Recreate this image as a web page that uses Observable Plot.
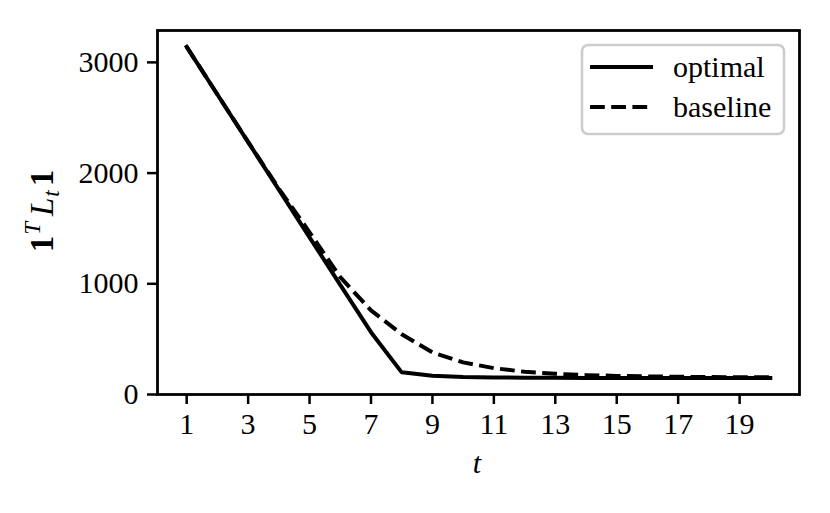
<!DOCTYPE html>
<html>
<head>
<meta charset="utf-8">
<script src="https://cdn.jsdelivr.net/npm/d3@7"></script>
<script src="https://cdn.jsdelivr.net/npm/@observablehq/plot@0.6"></script>
<style>
  html, body { margin: 0; padding: 0; background: white; }
  #chart { position: relative; width: 830px; height: 513px; }
</style>
</head>
<body>
<div id="chart"></div>
<script>
const steps = [1,2,3,4,5,6,7,8,9,10,11,12,13,14,15,16,17,18,19,20];
const optimal = [3140,2710,2280,1850,1420,990,563,200,170,158,154,152,151,150,150,149,149,148,148,148];
const baseline = [3140,2710,2282,1860,1465,1060,760,545,380,290,238,205,187,175,168,163,160,158,156,155];
const xTicks = [1,3,5,7,9,11,13,15,17,19];
const yTicks = [0,1000,2000,3000];
const seriesNames = ["optimal", "baseline"];

const rows = [];
steps.forEach((t, i) => {
  rows.push({t, v: optimal[i], s: seriesNames[0]});
  rows.push({t, v: baseline[i], s: seriesNames[1]});
});

const font = "'Liberation Serif', 'DejaVu Serif', serif";
const fs = 30;

const plot = Plot.plot({
  width: 830,
  height: 513,
  marginLeft: 157,
  marginRight: 31,
  marginTop: 30,
  marginBottom: 119,
  style: { fontFamily: font, fontSize: fs + "px", color: "black", background: "white", overflow: "visible" },
  x: { domain: [0.05, 20.95] },
  y: { domain: [0, 3288] },
  marks: [
    Plot.line(rows.filter(d => d.s === "optimal"), { x: "t", y: "v", stroke: "black", strokeWidth: 4, strokeLinejoin: "miter", strokeLinecap: "square" }),
    Plot.line(rows.filter(d => d.s === "baseline"), { x: "t", y: "v", stroke: "black", strokeWidth: 4, strokeDasharray: "14.8,6.4", strokeLinecap: "butt" }),
    Plot.frame({ stroke: "black", strokeWidth: 2.8 }),
    Plot.axisX({ ticks: xTicks, tickSize: 10, tickPadding: 8, strokeWidth: 2.5, label: null, fontSize: fs }),
    Plot.axisY({ ticks: yTicks, tickSize: 10, tickPadding: 9, strokeWidth: 2.5, label: null, fontSize: fs, tickFormat: d => String(d) })
  ]
});

document.getElementById("chart").appendChild(plot);

const svg = d3.select(plot);

// x label
svg.append("text")
  .attr("x", 477).attr("y", 473)
  .attr("text-anchor", "middle")
  .attr("font-family", font).attr("font-size", fs).attr("font-style", "italic")
  .text("t");

// y label: 1^T L_t 1
const yl = svg.append("text")
  .attr("transform", "translate(53,211) rotate(-90)")
  .attr("text-anchor", "middle")
  .attr("font-family", font).attr("font-size", 33);
yl.append("tspan").attr("font-weight", "bold").text("1");
yl.append("tspan").attr("font-style", "italic").attr("font-size", 23).attr("dy", -13).attr("dx", 1).text("T");
yl.append("tspan").attr("font-style", "italic").attr("dy", 13).attr("dx", 6).text("L");
yl.append("tspan").attr("font-style", "italic").attr("font-size", 23).attr("dy", 6).attr("dx", 1).text("t");
yl.append("tspan").attr("font-weight", "bold").attr("dy", -6).attr("dx", 4).text("1");

// legend
const lg = svg.append("g");
lg.append("rect")
  .attr("x", 582).attr("y", 45).attr("width", 202).attr("height", 89)
  .attr("rx", 6).attr("fill", "white").attr("fill-opacity", 0.8)
  .attr("stroke", "#cccccc").attr("stroke-width", 2.5);
const entries = [
  { name: seriesNames[0], dash: null, y: 67 },
  { name: seriesNames[1], dash: "14.8,6.4", y: 107 }
];
entries.forEach(e => {
  const ln = lg.append("line")
    .attr("x1", 590).attr("x2", 653).attr("y1", e.y).attr("y2", e.y)
    .attr("stroke", "black").attr("stroke-width", 4);
  if (e.dash) ln.attr("stroke-dasharray", e.dash);
  lg.append("text")
    .attr("x", 673).attr("y", e.y + 10)
    .attr("text-anchor", "start")
    .attr("font-family", font).attr("font-size", fs)
    .text(e.name);
});
</script>
</body>
</html>
